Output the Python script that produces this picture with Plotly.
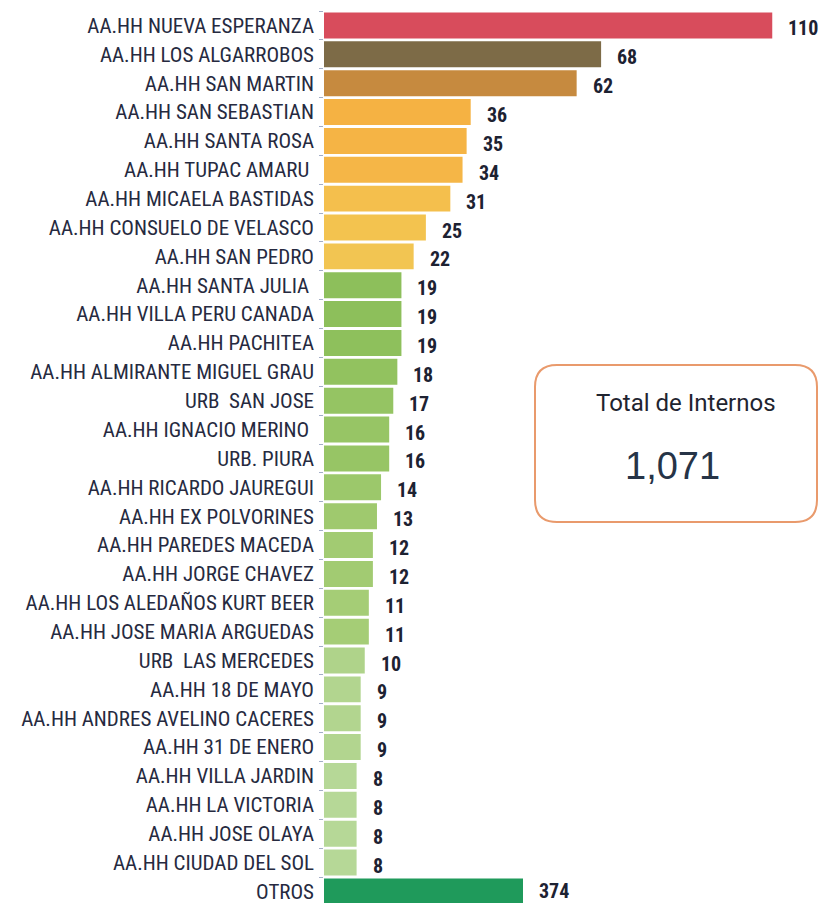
import plotly.graph_objects as go

categories = [
    "AA.HH NUEVA ESPERANZA", "AA.HH LOS ALGARROBOS", "AA.HH SAN MARTIN",
    "AA.HH SAN SEBASTIAN", "AA.HH SANTA ROSA", "AA.HH TUPAC AMARU ",
    "AA.HH MICAELA BASTIDAS", "AA.HH CONSUELO DE VELASCO", "AA.HH SAN PEDRO",
    "AA.HH SANTA JULIA ", "AA.HH VILLA PERU CANADA", "AA.HH PACHITEA",
    "AA.HH ALMIRANTE MIGUEL GRAU", "URB  SAN JOSE", "AA.HH IGNACIO MERINO ",
    "URB. PIURA", "AA.HH RICARDO JAUREGUI", "AA.HH EX POLVORINES",
    "AA.HH PAREDES MACEDA", "AA.HH JORGE CHAVEZ", "AA.HH LOS ALEDAÑOS KURT BEER",
    "AA.HH JOSE MARIA ARGUEDAS", "URB  LAS MERCEDES", "AA.HH 18 DE MAYO",
    "AA.HH ANDRES AVELINO CACERES", "AA.HH 31 DE ENERO", "AA.HH VILLA JARDIN",
    "AA.HH LA VICTORIA", "AA.HH JOSE OLAYA", "AA.HH CIUDAD DEL SOL",
]
values = [110, 68, 62, 36, 35, 34, 31, 25, 22, 19, 19, 19, 18, 17, 16, 16,
          14, 13, 12, 12, 11, 11, 10, 9, 9, 9, 8, 8, 8, 8]
otros_label = "OTROS"
otros_value = 374
total_label = "Total de Internos"
total_value = 1071

bar_colors = [
    "#d84c5c", "#7d6b47", "#c68a3f",
    "#f5b243", "#f5b445", "#f5b647", "#f4bf4d", "#f3c34f", "#f2c552",
    "#8dbf5b", "#8dbf5b", "#8ec05c", "#92c25f", "#95c463", "#97c565", "#97c565",
    "#9cc86b", "#9fc96e", "#a2cb72", "#a2cb72", "#a5cd76", "#a5cd76",
    "#afd38a", "#b2d58f", "#b2d58f", "#b2d58f", "#b6d897", "#b6d897", "#b6d897", "#b6d897",
]
otros_color = "#1f9a5b"

all_cats = categories + [otros_label]

W, H = 821, 903
L, R, T, B = 324, 8, 11, 0
X_MAX = 120
PX_PER_UNIT = (W - L - R) / X_MAX
OTROS_PX = 199
X2_MAX = X_MAX * otros_value / (OTROS_PX / PX_PER_UNIT)
ROW_PX = 866 / 30

narrow_font = "Roboto Condensed, Liberation Sans Narrow, Arial Narrow, Roboto, sans-serif"
label_font = "Roboto, Liberation Sans, Arial, sans-serif"

fig = go.Figure()
fig.add_trace(go.Bar(
    x=values, y=categories, orientation="h",
    marker=dict(color=bar_colors, line=dict(width=0)),
    xaxis="x", yaxis="y", showlegend=False, hoverinfo="x+y",
))
fig.add_trace(go.Bar(
    x=[otros_value], y=[otros_label], orientation="h",
    marker=dict(color=otros_color, line=dict(width=0)),
    xaxis="x2", yaxis="y", showlegend=False, hoverinfo="x+y",
))

val_font = dict(family=narrow_font, size=20, color="#1d2232", weight=700)
annotations = []
for c, v in zip(categories, values):
    annotations.append(dict(
        x=v, y=c, xref="x", yref="y", text=str(v), showarrow=False,
        xanchor="left", xshift=14, yshift=-3, font=val_font,
    ))
annotations.append(dict(
    x=otros_value, y=otros_label, xref="x2", yref="y", text=str(otros_value),
    showarrow=False, xanchor="left", xshift=14, yshift=0, font=val_font,
))

# Total box (pixel -> paper helpers)
pw, ph = W - L - R, H - T - B
def px(xp):
    return (xp - L) / pw
def py(yp):
    return (H - B - yp) / ph

bx0, bx1, by0, by1, rad = 535, 817, 365, 522, 22
path = (
    f"M {px(bx0 + rad)},{py(by0)} L {px(bx1 - rad)},{py(by0)} "
    f"Q {px(bx1)},{py(by0)} {px(bx1)},{py(by0 + rad)} "
    f"L {px(bx1)},{py(by1 - rad)} Q {px(bx1)},{py(by1)} {px(bx1 - rad)},{py(by1)} "
    f"L {px(bx0 + rad)},{py(by1)} Q {px(bx0)},{py(by1)} {px(bx0)},{py(by1 - rad)} "
    f"L {px(bx0)},{py(by0 + rad)} Q {px(bx0)},{py(by0)} {px(bx0 + rad)},{py(by0)} Z"
)
fig.add_shape(type="path", path=path, xref="paper", yref="paper",
              line=dict(color="#e99a6c", width=2), fillcolor="rgba(0,0,0,0)")

annotations.append(dict(
    x=px(686), y=py(403), xref="paper", yref="paper", text=total_label,
    showarrow=False, xanchor="center", yanchor="middle",
    font=dict(family=label_font, size=24, color="#1f2430"),
))
annotations.append(dict(
    x=px(672), y=py(466), xref="paper", yref="paper", text=f"{total_value:,}",
    showarrow=False, xanchor="center", yanchor="middle",
    font=dict(family="Liberation Sans, Arial, sans-serif", size=38, color="#263447"),
))

fig.update_layout(
    width=W, height=H,
    margin=dict(l=L, r=R, t=T, b=B, autoexpand=False),
    paper_bgcolor="white", plot_bgcolor="white",
    barmode="overlay", bargap=0.1,
    xaxis=dict(range=[0, X_MAX], visible=False, fixedrange=True),
    xaxis2=dict(range=[0, X2_MAX], visible=False, overlaying="x", fixedrange=True),
    yaxis=dict(
        type="category", categoryorder="array", categoryarray=all_cats,
        range=[ph / ROW_PX - 0.5, -0.5],
        ticks="outside", tickson="boundaries", ticklen=4, tickcolor="#a3adc6",
        showline=False, showgrid=False, zeroline=False,
        ticklabelstandoff=9,
        tickfont=dict(family=narrow_font, size=21, color="#262a40"),
        automargin=False,
    ),
    annotations=annotations,
    font=dict(family=label_font),
)

fig.write_html(
    "out.html",
    config={"displayModeBar": False},
    post_script="document.body.style.margin='0px';document.body.style.overflow='hidden';",
)
